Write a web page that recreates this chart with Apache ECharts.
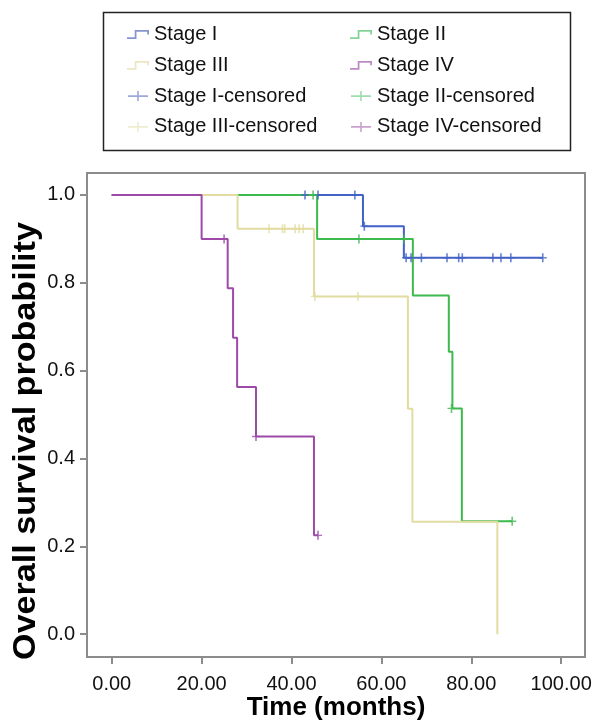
<!DOCTYPE html>
<html lang="en">
<head>
    <meta charset="UTF-8"/>
    <title>Overall survival by stage</title>
    <script src="https://cdn.jsdelivr.net/npm/echarts@6/dist/echarts.min.js"></script>
    <style>
        body { margin: 0; background: #fff; }
    </style>
</head>
<body>
<div id="main" style="width: 593px;height:724px;"></div>

<script type="text/javascript">
    // Kaplan-Meier steps: [time, survival after the event]
    var stage1Curve = [[0, 1], [55.9, 0.929], [65, 0.857], [95.9, 0.857]];
    var stage2Curve = [[0, 1], [45.7, 0.9], [67, 0.771], [75, 0.643], [75.8, 0.514], [77.9, 0.257], [89.1, 0.257]];
    var stage3Curve = [[0, 1], [28, 0.923], [45, 0.769], [65.9, 0.513], [66.9, 0.256], [85.8, 0]];
    var stage4Curve = [[0, 1], [20, 0.9], [25.8, 0.7875], [27, 0.675], [27.9, 0.5625], [32.1, 0.45], [45, 0.225], [45.9, 0.225]];

    // censored cases
    var stage1Censored = [[43, 1], [45.9, 1], [54.1, 1], [56.2, 0.929],
        [65.5, 0.857], [66.6, 0.857], [68.9, 0.857], [74.6, 0.857], [77.2, 0.857], [78, 0.857],
        [84.8, 0.857], [86.6, 0.857], [88.8, 0.857], [95.9, 0.857]];
    var stage2Censored = [[44.8, 1], [55, 0.9], [65, 0.9], [75.6, 0.514], [89.1, 0.257]];
    var stage3Censored = [[35, 0.923], [38, 0.923], [38.5, 0.923], [40.8, 0.923], [41.7, 0.923], [42.6, 0.923],
        [45.2, 0.769], [54.8, 0.769]];
    var stage4Censored = [[25, 0.9], [32.1, 0.45], [45.9, 0.225]];

    var stageNames = ['Stage I', 'Stage II', 'Stage III', 'Stage IV'];
    var xTicks = [0, 20, 40, 60, 80, 100];
    var yTicks = [0, 0.2, 0.4, 0.6, 0.8, 1.0];

    var lineColors = ['#4262c6', '#3dba4d', '#e2dca0', '#9e4aa8'];
    var legendColors = ['#8595cf', '#84d398', '#ebe7c4', '#bb8cc2'];

    var stepIcon = 'path://M0,6.4 L7,6.4 L7,0 L20,0 L20,4 L18.4,4 L18.4,1.6 L8.6,1.6 L8.6,8 L0,8 Z';
    var crossIcon = 'path://M0,4.2 L9.2,4.2 L9.2,0 L10.8,0 L10.8,4.2 L20,4.2 L20,5.8 L10.8,5.8 L10.8,10 L9.2,10 L9.2,5.8 L0,5.8 Z';
    var censorMark = 'path://M0,3.8 L3.2,3.8 L3.2,0 L4.8,0 L4.8,3.8 L8,3.8 L8,5.2 L4.8,5.2 L4.8,9 L3.2,9 L3.2,5.2 L0,5.2 Z';

    var curves = [stage1Curve, stage2Curve, stage3Curve, stage4Curve];
    var censored = [stage1Censored, stage2Censored, stage3Censored, stage4Censored];

    var font = 'Liberation Sans';
    var series = [];
    for (var i = 0; i < 4; i++) {
        series.push({
            name: stageNames[i],
            type: 'line',
            step: 'end',
            symbol: 'none',
            data: curves[i],
            lineStyle: { color: lineColors[i], width: 2 },
            itemStyle: { color: lineColors[i] },
            z: 2
        });
    }
    for (var j = 0; j < 4; j++) {
        series.push({
            name: stageNames[j] + '-censored',
            type: 'scatter',
            symbol: censorMark,
            symbolSize: [8, 9],
            data: censored[j],
            itemStyle: { color: lineColors[j] },
            z: 3
        });
    }

    function legendItem(name, k, icon) {
        return { name: name, icon: icon, itemStyle: { color: legendColors[k] } };
    }
    var legendBase = {
        orient: 'vertical',
        top: 18.5,
        itemWidth: 22,
        itemHeight: 10,
        itemGap: 8.8,
        selectedMode: false,
        textStyle: { fontFamily: font, fontSize: 20, color: '#111', lineHeight: 22 }
    };

    var myChart = echarts.init(document.getElementById('main'));
    var option = {
        animation: false,
        legend: [
            Object.assign({}, legendBase, {
                left: 122,
                data: [legendItem('Stage I', 0, stepIcon), legendItem('Stage III', 2, stepIcon),
                    legendItem('Stage I-censored', 0, crossIcon), legendItem('Stage III-censored', 2, crossIcon)]
            }),
            Object.assign({}, legendBase, {
                left: 345,
                data: [legendItem('Stage II', 1, stepIcon), legendItem('Stage IV', 3, stepIcon),
                    legendItem('Stage II-censored', 1, crossIcon), legendItem('Stage IV-censored', 3, crossIcon)]
            })
        ],
        graphic: [
            {
                type: 'rect',
                shape: { x: 103.5, y: 12.5, width: 467, height: 138 },
                style: { fill: 'none', stroke: '#222', lineWidth: 1.5 }
            },
            {
                type: 'text',
                x: 26,
                y: 441,
                rotation: Math.PI / 2,
                scaleX: 1.1,
                style: {
                    text: 'Overall survival probability',
                    font: 'bold 31px "Liberation Sans"',
                    fill: '#000',
                    align: 'center',
                    verticalAlign: 'middle'
                }
            }
        ],
        grid: {
            left: 87, right: 8, top: 173, bottom: 67,
            containLabel: false,
            outerBoundsMode: 'none',
            show: true,
            borderColor: '#8c8c8c',
            borderWidth: 2
        },
        xAxis: {
            type: 'value',
            min: -5.5,
            max: 105.3,
            axisLine: { show: false, onZero: false },
            splitLine: { show: false },
            axisTick: { show: true, customValues: xTicks, length: 7, lineStyle: { color: '#8c8c8c', width: 2 } },
            axisLabel: {
                customValues: xTicks,
                margin: 17,
                fontFamily: font, fontSize: 20, color: '#111',
                formatter: function (v) { return v.toFixed(2); }
            },
            name: 'Time (months)',
            nameLocation: 'middle',
            nameGap: 38,
            nameMoveOverlap: false,
            nameTextStyle: { fontFamily: font, fontSize: 26, fontWeight: 'bold', color: '#000' }
        },
        yAxis: {
            type: 'value',
            min: -0.052,
            max: 1.05,
            axisLine: { show: false, onZero: false },
            splitLine: { show: false },
            axisTick: { show: true, customValues: yTicks, length: 7, lineStyle: { color: '#8c8c8c', width: 2 } },
            axisLabel: {
                customValues: yTicks,
                margin: 12,
                fontFamily: font, fontSize: 20, color: '#111',
                formatter: function (v) { return v.toFixed(1); }
            }
        },
        series: series
    };
    myChart.setOption(option);
</script>
</body>
</html>
